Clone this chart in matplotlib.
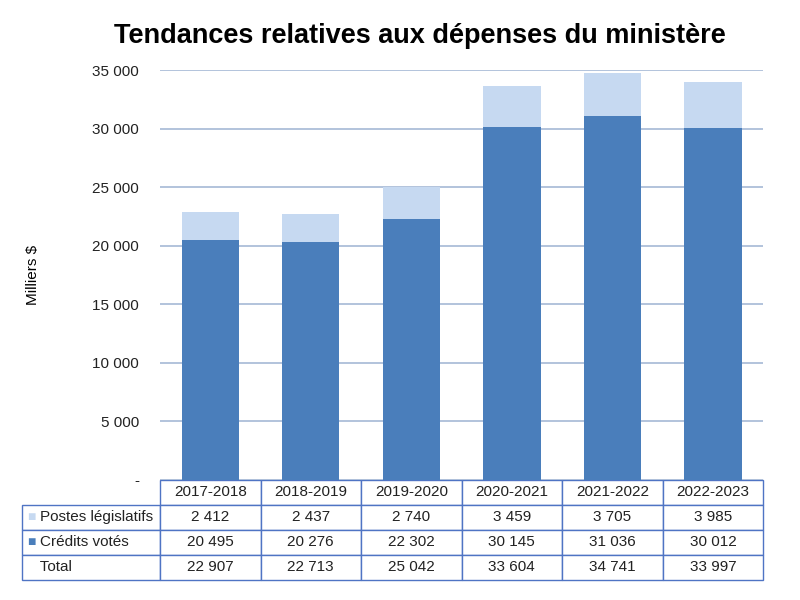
import matplotlib
matplotlib.use("Agg")
import matplotlib.pyplot as plt
from matplotlib.table import Table
import numpy as np

plt.rcParams['font.family'] = ['Liberation Sans', 'DejaVu Sans']

years = ['2017-2018', '2018-2019', '2019-2020', '2020-2021', '2021-2022', '2022-2023']
postes_legislatifs = [2412, 2437, 2740, 3459, 3705, 3985]
credits_votes = [20495, 20276, 22302, 30145, 31036, 30012]
totals = [22907, 22713, 25042, 33604, 34741, 33997]
row_names = ['Postes législatifs', 'Crédits votés', 'Total']

dark = '#4A7EBB'
light = '#C6D9F1'
edge = '#4F74C4'


def fmt(v):
    return '{:,}'.format(v).replace(',', ' ')


fig = plt.figure(figsize=(8, 6), dpi=100)
ax = fig.add_axes([0.2, 0.2, 0.954 - 0.2, 0.8833 - 0.2])

x = np.arange(len(years))
ax.bar(x, credits_votes, width=0.57, color=dark, zorder=3)
ax.bar(x, postes_legislatifs, width=0.57, bottom=credits_votes, color=light, zorder=3)

ax.set_xlim(-0.5, len(years) - 0.5)
ax.set_ylim(0, 35000)
yt = np.arange(0, 35001, 5000)
ax.set_yticks(yt)
ax.set_yticklabels(['-'] + [fmt(v) for v in yt[1:]], fontsize=11, color='#222222')
ax.tick_params(axis='y', length=0, pad=15)
ax.set_xticks([])
for s in ax.spines.values():
    s.set_visible(False)
ax.yaxis.grid(True, color='#A6B9D6', linewidth=1.2, zorder=0)
ax.set_axisbelow(True)
ax.set_ylabel('Milliers $', fontsize=11, labelpad=38)

fig.text(0.525, 0.940, 'Tendances relatives aux dépenses du ministère',
         ha='center', va='center', fontsize=19.5, fontweight='bold')

# table below the plot, built cell by cell
ax_w = 603.0
ax_h = 410.0
rows = [[fmt(v) for v in postes_legislatifs],
        [fmt(v) for v in credits_votes],
        [fmt(v) for v in totals]]
label_w = 138.0
col_w = ax_w / len(years)
tbl = Table(ax, bbox=[-label_w / ax_w, -100.0 / ax_h, (label_w + ax_w) / ax_w, 100.0 / ax_h])
# header row
c0 = tbl.add_cell(0, 0, width=label_w, height=1, text='')
c0.set_linewidth(0)
for j, yr in enumerate(years):
    tbl.add_cell(0, j + 1, width=col_w, height=1, text=yr, loc='center')
for i, name in enumerate(row_names):
    cell = tbl.add_cell(i + 1, 0, width=label_w, height=1, text='    ' + name, loc='left')
    cell.PAD = 0.01
    for j, val in enumerate(rows[i]):
        tbl.add_cell(i + 1, j + 1, width=col_w, height=1, text=val, loc='center')
tbl.auto_set_font_size(False)
tbl.set_fontsize(11)
for (r, c), cell in tbl.get_celld().items():
    if r == 0 and c == 0:
        cell.set_edgecolor('none')
        continue
    cell.set_edgecolor(edge)
    cell.set_linewidth(1.0)
    cell.get_text().set_color('#222222')
ax.add_table(tbl)

# legend squares in the row labels
ax.text(-133.0 / ax_w, -(25.0 + 12.5) / ax_h, '■', color=light, fontsize=10,
        ha='left', va='center', transform=ax.transAxes, clip_on=False)
ax.text(-133.0 / ax_w, -(50.0 + 12.5) / ax_h, '■', color=dark, fontsize=10,
        ha='left', va='center', transform=ax.transAxes, clip_on=False)

fig.savefig('out.png', dpi=100)
